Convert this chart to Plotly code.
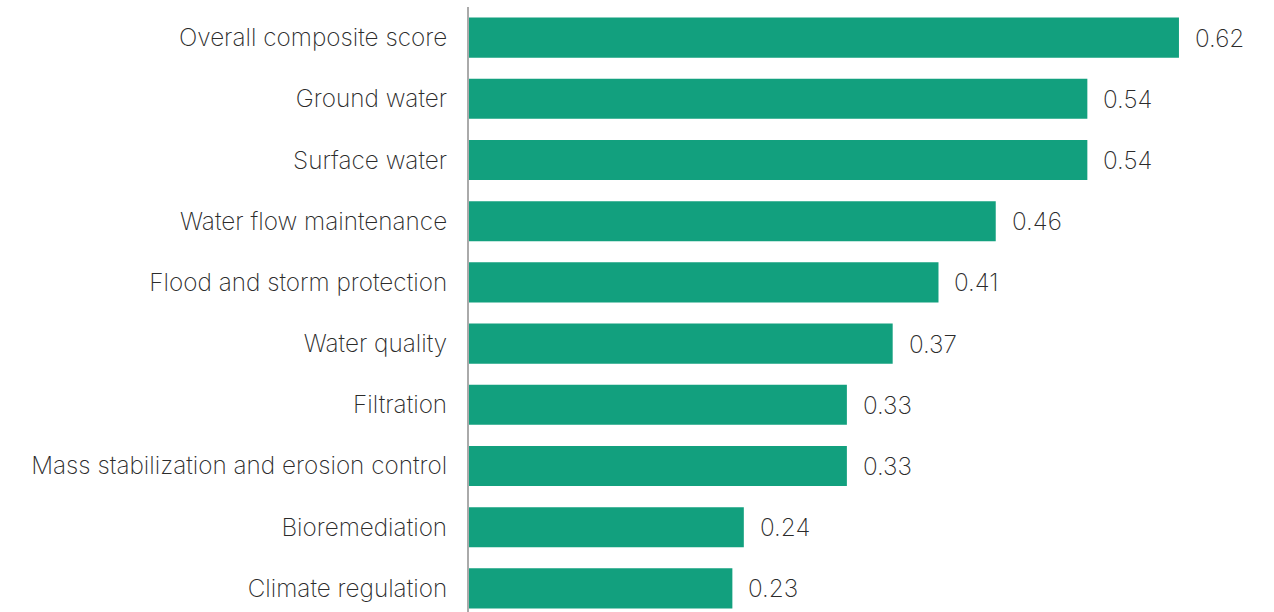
import plotly.graph_objects as go

categories = ["Overall composite score", "Ground water", "Surface water", "Water flow maintenance",
              "Flood and storm protection", "Water quality", "Filtration",
              "Mass stabilization and erosion control", "Bioremediation", "Climate regulation"]
values = [0.62, 0.54, 0.54, 0.46, 0.41, 0.37, 0.33, 0.33, 0.24, 0.23]
labels = ["0.62", "0.54", "0.54", "0.46", "0.41", "0.37", "0.33", "0.33", "0.24", "0.23"]

pos = list(range(len(categories)))
FONT = dict(family="Inter", size=24.3, color="#2b2b2b", weight=200)

fig = go.Figure(go.Bar(
    x=values, y=pos, orientation="h",
    marker=dict(color="#12a07e", line=dict(width=0)),
    width=0.655,
))

for v, p, t in zip(values, pos, labels):
    fig.add_annotation(x=v, y=p, text=t, showarrow=False, xanchor="left",
                       xshift=14, font=FONT)

fig.update_layout(
    width=1274, height=612,
    margin=dict(l=469, r=0, t=7, b=0, autoexpand=False),
    paper_bgcolor="white", plot_bgcolor="white",
    font=FONT,
    showlegend=False,
)
fig.update_xaxes(range=[0, 0.703], visible=False, showgrid=False, zeroline=False,
                 automargin=False)
fig.update_yaxes(range=[9.386, -0.5], tickvals=pos, ticktext=categories,
                 showgrid=False, zeroline=False, showline=True, linecolor="#aaaaaa",
                 linewidth=2, ticks="", ticklabelstandoff=15, automargin=False,
                 tickfont=FONT)

fig.write_html("out.html", config={"displayModeBar": False},
               post_script="document.body.style.margin='0';")
